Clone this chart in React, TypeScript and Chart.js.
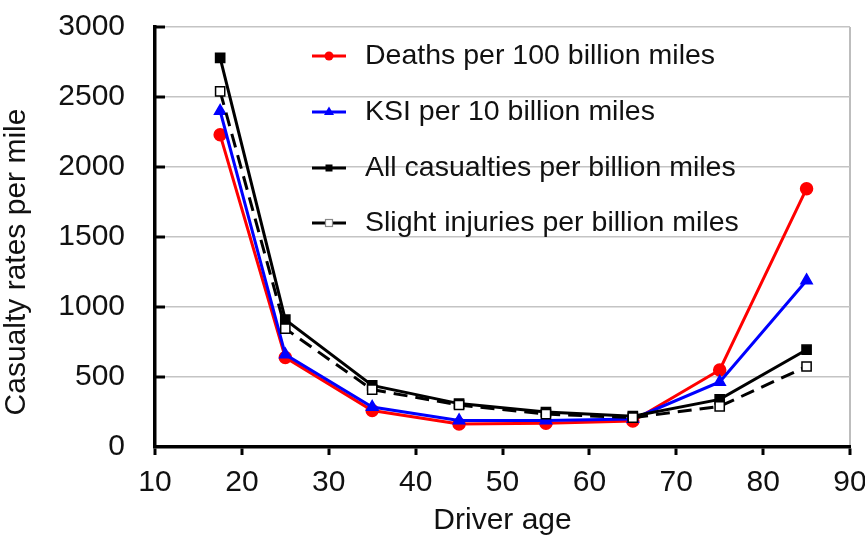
import React, { useEffect, useRef } from "react";
import { Chart, registerables } from "chart.js";

Chart.register(...registerables);

const driverAges = [17.5, 25, 35, 45, 55, 65, 75, 85];
const deathsPer100BillionMiles = [2230, 640, 260, 165, 170, 185, 550, 1845];
const ksiPer10BillionMiles = [2400, 660, 285, 190, 190, 200, 465, 1190];
const allCasualtiesPerBillionMiles = [2780, 910, 440, 310, 250, 220, 340, 695];
const slightInjuriesPerBillionMiles = [2540, 845, 410, 300, 235, 210, 290, 575];
const seriesLabels = [
  "Deaths per 100 billion miles",
  "KSI per 10 billion miles",
  "All casualties per billion miles",
  "Slight injuries per billion miles",
];
const xTickValues = [10, 20, 30, 40, 50, 60, 70, 80, 90];
const yTickValues = [0, 500, 1000, 1500, 2000, 2500, 3000];
const xAxisTitle = "Driver age";
const yAxisTitle = "Casualty rates per mile";

const FONT = "'Liberation Sans', Arial, Helvetica, sans-serif";
const TEXT = "#111111";

type LegendStyle = { color: string; marker: string; fill: string };
const legendStyles: LegendStyle[] = [
  { color: "#ff0000", marker: "circle", fill: "#ff0000" },
  { color: "#0000ff", marker: "triangle", fill: "#0000ff" },
  { color: "#000000", marker: "rect", fill: "#000000" },
  { color: "#000000", marker: "rect", fill: "#ffffff" },
];

const toPoints = (ys: number[]) => driverAges.map((x, i) => ({ x, y: ys[i] }));

const overlayPlugin = {
  id: "overlay",
  afterDraw(chart: any) {
    const ctx = chart.ctx as CanvasRenderingContext2D;
    const yScale = chart.scales.y;
    const area = chart.chartArea;
    ctx.save();
    // inward y ticks
    ctx.strokeStyle = "#000";
    ctx.lineWidth = 3;
    yTickValues.forEach((v) => {
      if (v === 0) return;
      const py = yScale.getPixelForValue(v);
      ctx.beginPath();
      ctx.moveTo(area.left, py);
      ctx.lineTo(area.left + 10, py);
      ctx.stroke();
    });
    // y axis title
    ctx.save();
    ctx.translate(17, 262);
    ctx.rotate(-Math.PI / 2);
    ctx.font = `30px ${FONT}`;
    ctx.fillStyle = TEXT;
    ctx.textAlign = "center";
    ctx.textBaseline = "middle";
    ctx.fillText(yAxisTitle, 0, 0);
    ctx.restore();
    // legend
    const rowY = [56, 112, 168, 223];
    seriesLabels.forEach((label, i) => {
      const st = legendStyles[i];
      const y = rowY[i];
      ctx.strokeStyle = st.color;
      ctx.lineWidth = 3;
      ctx.setLineDash([]);
      ctx.beginPath();
      ctx.moveTo(312, y);
      ctx.lineTo(346, y);
      ctx.stroke();
      const cx = 329;
      ctx.fillStyle = st.fill;
      if (st.marker === "circle") {
        ctx.beginPath();
        ctx.arc(cx, y, 4.5, 0, Math.PI * 2);
        ctx.fill();
      } else if (st.marker === "triangle") {
        ctx.beginPath();
        ctx.moveTo(cx, y - 5.5);
        ctx.lineTo(cx + 5, y + 3);
        ctx.lineTo(cx - 5, y + 3);
        ctx.closePath();
        ctx.fill();
      } else {
        ctx.fillRect(cx - 3.5, y - 3.5, 7, 7);
        if (st.fill === "#ffffff") {
          ctx.strokeStyle = "#888";
          ctx.lineWidth = 1.2;
          ctx.strokeRect(cx - 3.5, y - 3.5, 7, 7);
        }
      }
      ctx.fillStyle = TEXT;
      ctx.font = `28.5px ${FONT}`;
      ctx.textAlign = "left";
      ctx.textBaseline = "middle";
      ctx.fillText(label, 365, y);
    });
    ctx.restore();
  },
};

export default function App() {
  const canvasRef = useRef<HTMLCanvasElement | null>(null);

  useEffect(() => {
    if (!canvasRef.current) return;
    const common = { borderWidth: 3, pointBorderWidth: 1.5, tension: 0, fill: false };
    const chart = new Chart(canvasRef.current, {
      type: "line",
      data: {
        datasets: [
          {
            ...common,
            label: seriesLabels[0],
            data: toPoints(deathsPer100BillionMiles),
            borderColor: "#ff0000",
            backgroundColor: "#ff0000",
            pointStyle: "circle",
            pointRadius: 6,
            pointBorderColor: "#ff0000",
            pointBackgroundColor: "#ff0000",
            order: 4,
          },
          {
            ...common,
            label: seriesLabels[1],
            data: toPoints(ksiPer10BillionMiles),
            borderColor: "#0000ff",
            backgroundColor: "#0000ff",
            pointStyle: "triangle",
            pointRadius: 6.5,
            pointBorderColor: "#0000ff",
            pointBackgroundColor: "#0000ff",
            order: 3,
          },
          {
            ...common,
            label: seriesLabels[2],
            data: toPoints(allCasualtiesPerBillionMiles),
            borderColor: "#000000",
            backgroundColor: "#000000",
            pointStyle: "rect",
            pointRadius: 6.5,
            pointBorderColor: "#000000",
            pointBackgroundColor: "#000000",
            order: 2,
          },
          {
            ...common,
            label: seriesLabels[3],
            data: toPoints(slightInjuriesPerBillionMiles),
            borderColor: "#000000",
            backgroundColor: "#ffffff",
            borderDash: [14, 8],
            pointStyle: "rect",
            pointRadius: 6.5,
            pointBorderColor: "#000000",
            pointBackgroundColor: "#ffffff",
            order: 1,
          },
        ],
      },
      options: {
        responsive: false,
        animation: false,
        events: [],
        layout: { padding: { top: 27, right: 15, left: 0, bottom: 0 } },
        plugins: {
          legend: { display: false },
          tooltip: { enabled: false },
          title: { display: false },
        },
        scales: {
          x: {
            type: "linear",
            min: 10,
            max: 90,
            afterBuildTicks: (s: any) => {
              s.ticks = xTickValues.map((v) => ({ value: v }));
            },
            afterFit: (s: any) => {
              s.height = 89;
              s.paddingLeft = 0;
              s.paddingRight = 0;
            },
            grid: {
              color: (c: any) => (c.tick && c.tick.value === 90 ? "#bdbdbd" : "rgba(0,0,0,0)"),
              lineWidth: 2,
              drawTicks: true,
              tickLength: 8,
              tickColor: "#000000",
              tickWidth: 3,
            },
            border: { display: true, color: "#000000", width: 3.5 },
            ticks: {
              color: TEXT,
              font: { family: FONT, size: 30 },
              padding: 10,
              maxRotation: 0,
              autoSkip: false,
              callback: (v: any) => String(v),
            },
            title: {
              display: true,
              text: xAxisTitle,
              color: TEXT,
              font: { family: FONT, size: 30 },
              padding: { top: 0, bottom: -3 },
            },
          },
          y: {
            type: "linear",
            min: 0,
            max: 3000,
            afterBuildTicks: (s: any) => {
              s.ticks = yTickValues.map((v) => ({ value: v }));
            },
            afterFit: (s: any) => {
              s.width = 155;
              s.paddingTop = 0;
              s.paddingBottom = 0;
            },
            grid: {
              color: (c: any) => (c.tick && c.tick.value === 0 ? "rgba(0,0,0,0)" : "#c4c4c4"),
              lineWidth: 1.5,
              drawTicks: false,
            },
            border: { display: true, color: "#000000", width: 3.5 },
            ticks: {
              color: TEXT,
              font: { family: FONT, size: 30 },
              padding: 30,
              autoSkip: false,
              callback: (v: any) => String(v),
            },
          },
        },
      },
      plugins: [overlayPlugin],
    } as any);
    return () => chart.destroy();
  }, []);

  return (
    <div style={{ position: "absolute", left: 0, top: 0, width: 865, height: 536, background: "#fff" }}>
      <canvas ref={canvasRef} width={865} height={536} style={{ display: "block" }} />
    </div>
  );
}
